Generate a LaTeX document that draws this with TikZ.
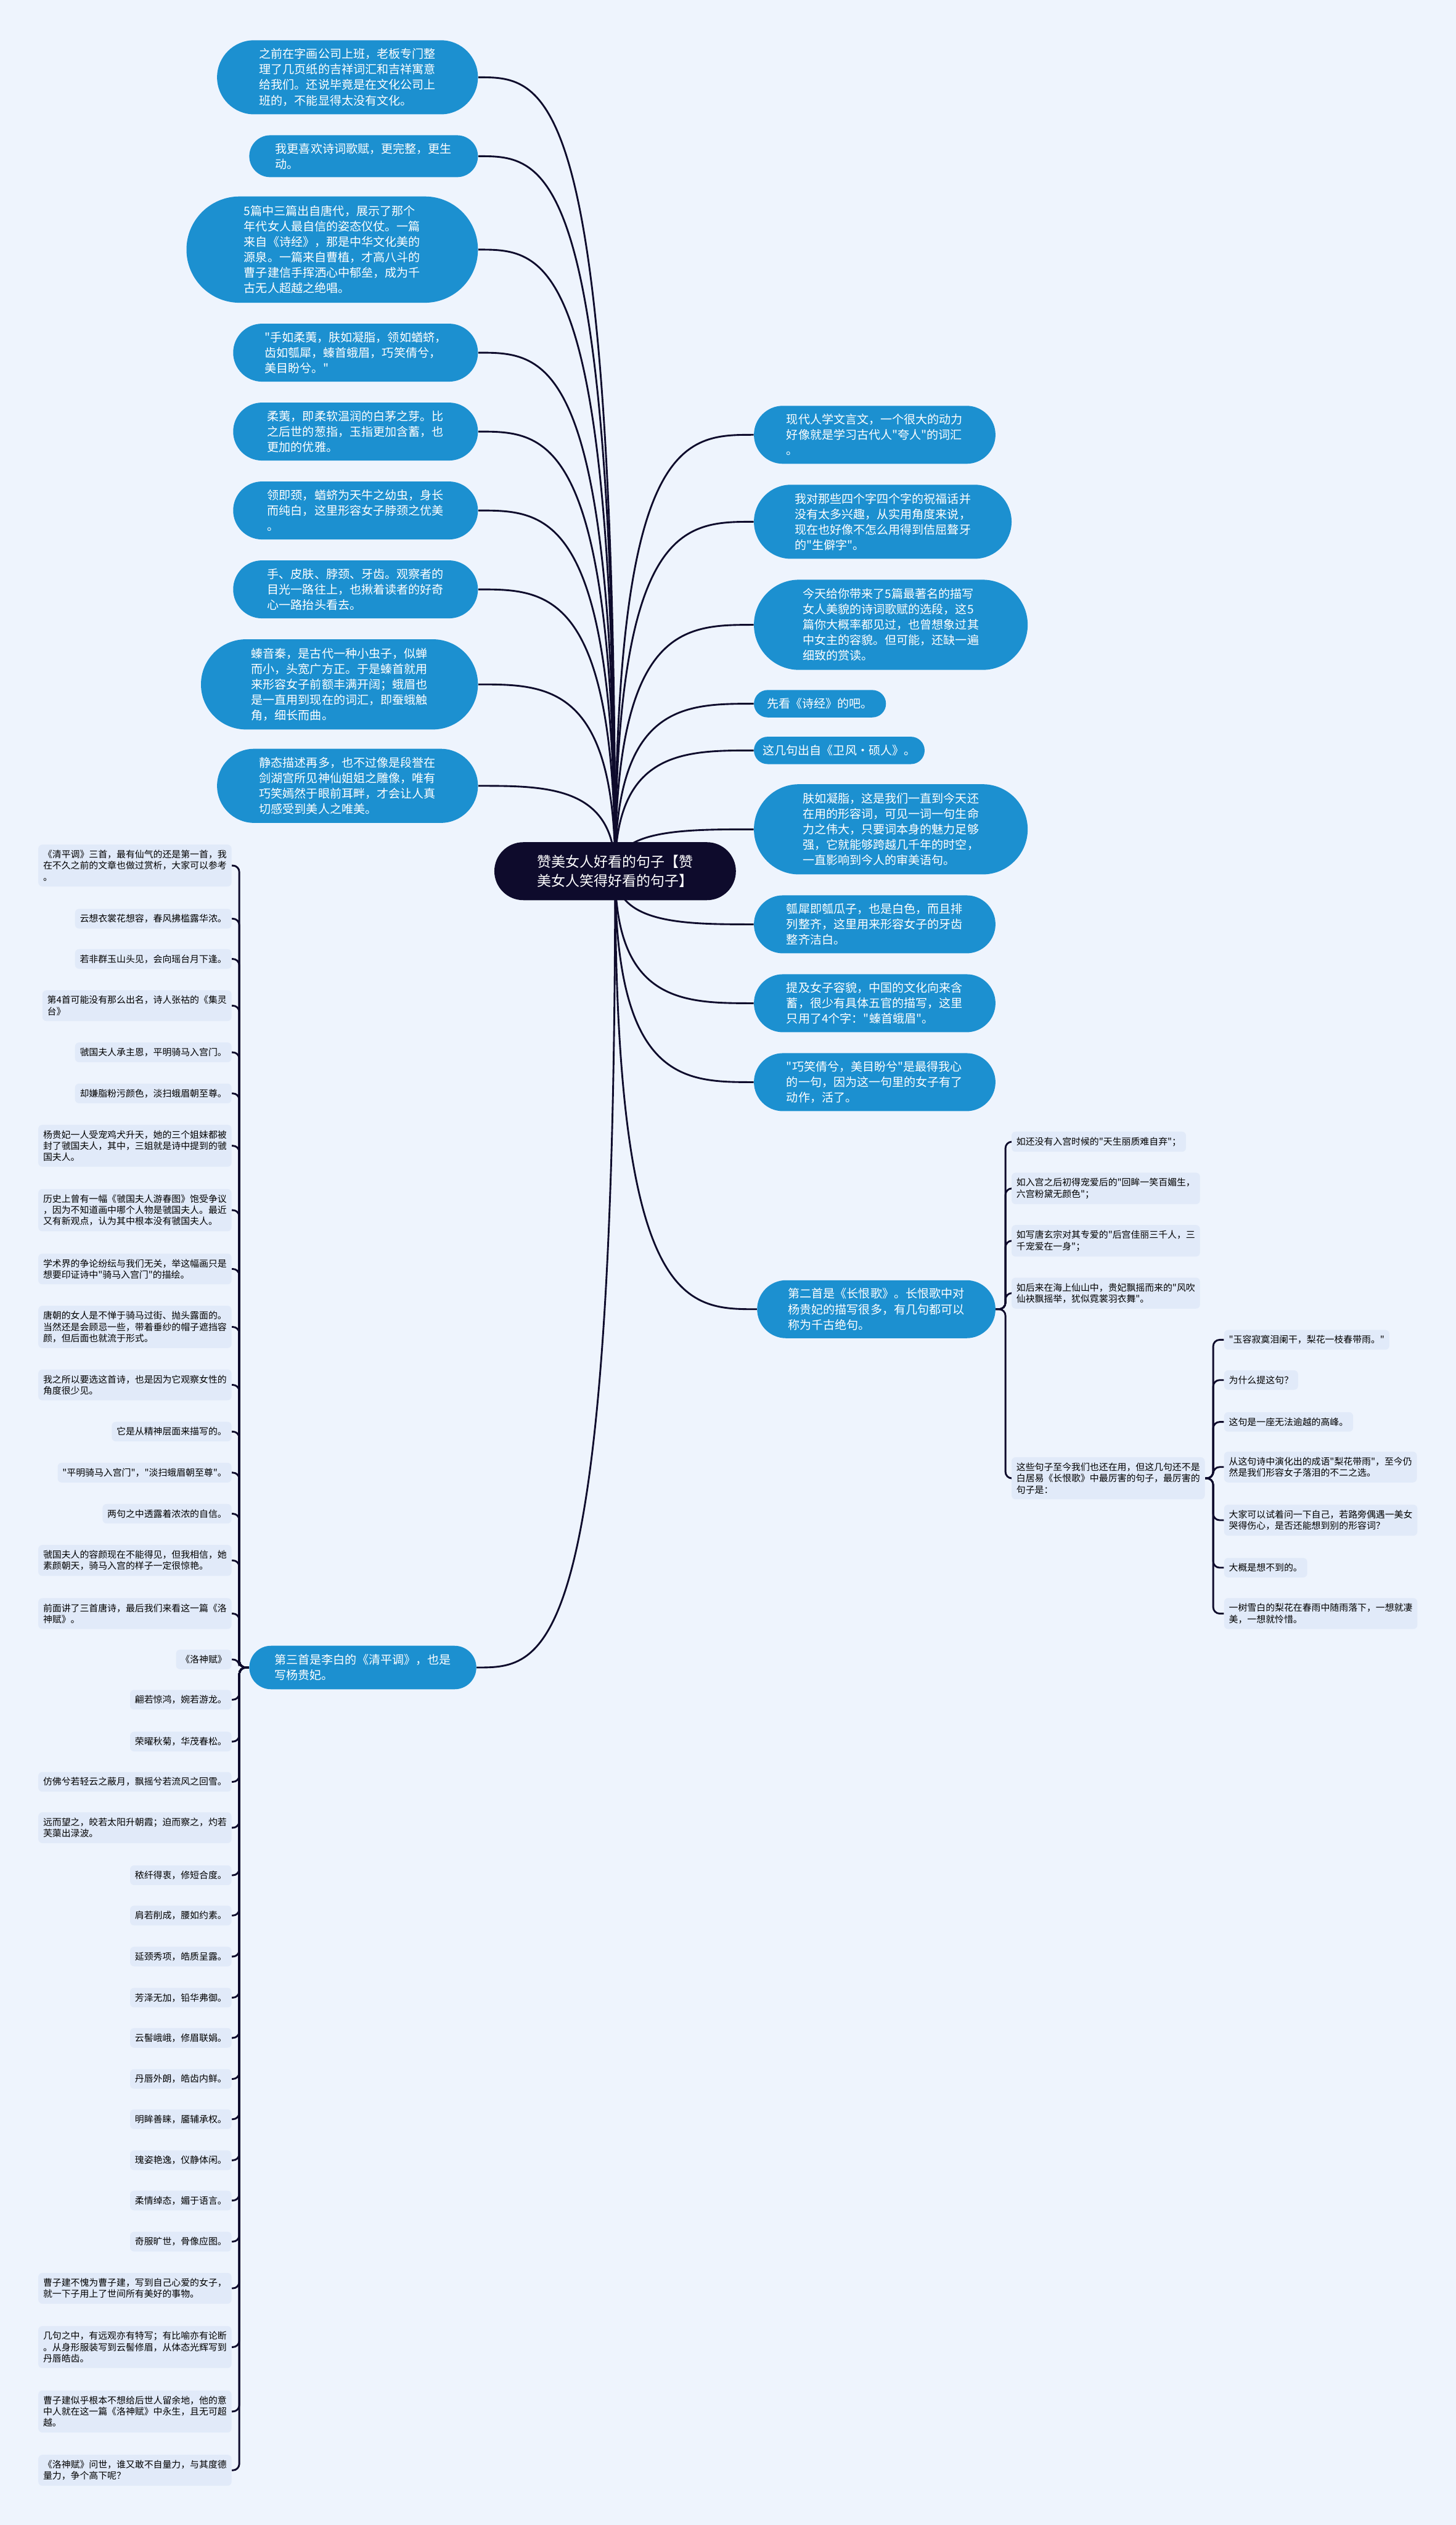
\documentclass[tikz,border=0pt]{standalone}
\usepackage{fontspec}
\newfontfamily\cjk{Noto Sans CJK SC}
\usepackage{xcolor}
\usepackage{tikz}
\usetikzlibrary{shapes.misc,calc,backgrounds}
\definecolor{pagebg}{RGB}{238,244,253}
\definecolor{pillblue}{RGB}{28,144,208}
\definecolor{rootnavy}{RGB}{14,11,44}
\definecolor{leafbg}{RGB}{225,234,249}

\begin{document}
\begin{tikzpicture}[x=1pt, y=-1pt,
    root/.style={rounded rectangle, fill=rootnavy, text=white, inner sep=0pt, align=left, font=\cjk\fontsize{8.8}{11.8}\selectfont},
    pill/.style={rounded rectangle, fill=pillblue, text=white, inner sep=0pt, align=left, font=\cjk\fontsize{7.3}{9.6}\selectfont},
    leaf/.style={fill=leafbg, rounded corners=2.5pt, inner xsep=3pt, inner ysep=3.4pt, align=left, font=\cjk\fontsize{5.7}{7}\selectfont},
    link/.style={draw=rootnavy, line width=1.1pt},
    brace/.style={rounded corners=4pt},
    branch/.style={to path={.. controls (\tikztostart |- \tikztotarget) and ($(\tikztostart |- \tikztotarget)!0.5!(\tikztotarget)$) .. (\tikztotarget)}}]
    \useasboundingbox (0,0) rectangle (904,1568);

    % Root
    \node[root, minimum width=150pt, minimum height=36pt] (root) at (382,541) {赞美女人好看的句子【赞\\美女人笑得好看的句子】};

    % Left branches
    \node[pill, anchor=east, minimum width=162pt, minimum height=46pt] (lt1) at (297,48) {之前在字画公司上班，老板专门整\\理了几页纸的吉祥词汇和吉祥寓意\\给我们。还说毕竟是在文化公司上\\班的，不能显得太没有文化。};
    \node[pill, anchor=east, minimum width=142pt, minimum height=26pt] (lt2) at (297,97) {我更喜欢诗词歌赋，更完整，更生\\动。};
    \node[pill, anchor=east, minimum width=181pt, minimum height=66pt] (lt3) at (297,155) {5篇中三篇出自唐代，展示了那个\\年代女人最自信的姿态仪仗。一篇\\来自《诗经》，那是中华文化美的\\源泉。一篇来自曹植，才高八斗的\\曹子建信手挥洒心中郁垒，成为千\\古无人超越之绝唱。};
    \node[pill, anchor=east, minimum width=152pt, minimum height=36pt] (lt4) at (297,219) {"手如柔荑，肤如凝脂，领如蝤蛴，\\齿如瓠犀，螓首蛾眉，巧笑倩兮，\\美目盼兮。"};
    \node[pill, anchor=east, minimum width=152pt, minimum height=36pt] (lt5) at (297,268) {柔荑，即柔软温润的白茅之芽。比\\之后世的葱指，玉指更加含蓄，也\\更加的优雅。};
    \node[pill, anchor=east, minimum width=152pt, minimum height=36pt] (lt6) at (297,317) {领即颈，蝤蛴为天牛之幼虫，身长\\而纯白，这里形容女子脖颈之优美\\。};
    \node[pill, anchor=east, minimum width=152pt, minimum height=36pt] (lt7) at (297,366) {手、皮肤、脖颈、牙齿。观察者的\\目光一路往上，也揪着读者的好奇\\心一路抬头看去。};
    \node[pill, anchor=east, minimum width=172pt, minimum height=56pt] (lt8) at (297,425) {螓音秦，是古代一种小虫子，似蝉\\而小，头宽广方正。于是螓首就用\\来形容女子前额丰满开阔；蛾眉也\\是一直用到现在的词汇，即蚕蛾触\\角，细长而曲。};
    \node[pill, anchor=east, minimum width=162pt, minimum height=46pt] (lt9) at (297,488) {静态描述再多，也不过像是段誉在\\剑湖宫所见神仙姐姐之雕像，唯有\\巧笑嫣然于眼前耳畔，才会让人真\\切感受到美人之唯美。};
    \node[pill, anchor=east, minimum width=141pt, minimum height=27pt] (qpd) at (296,1035.5) {第三首是李白的《清平调》，也是\\写杨贵妃。};

    % Right branches
    \node[pill, anchor=west, minimum width=150pt, minimum height=36pt] (rt1) at (468,270) {现代人学文言文，一个很大的动力\\好像就是学习古代人"夸人"的词汇\\。};
    \node[pill, anchor=west, minimum width=160pt, minimum height=46pt] (rt2) at (468,324) {我对那些四个字四个字的祝福话并\\没有太多兴趣，从实用角度来说，\\现在也好像不怎么用得到佶屈聱牙\\的"生僻字"。};
    \node[pill, anchor=west, minimum width=170pt, minimum height=56pt] (rt3) at (468,388) {今天给你带来了5篇最著名的描写\\女人美貌的诗词歌赋的选段，这5\\篇你大概率都见过，也曾想象过其\\中女主的容貌。但可能，还缺一遍\\细致的赏读。};
    \node[pill, anchor=west, minimum width=82pt, minimum height=17pt] (rt4) at (468,437) {先看《诗经》的吧。};
    \node[pill, anchor=west, minimum width=106pt, minimum height=17pt] (rt5) at (468,466) {这几句出自《卫风·硕人》。};
    \node[pill, anchor=west, minimum width=170pt, minimum height=56pt] (rt6) at (468,515) {肤如凝脂，这是我们一直到今天还\\在用的形容词，可见一词一句生命\\力之伟大，只要词本身的魅力足够\\强，它就能够跨越几千年的时空，\\一直影响到今人的审美语句。};
    \node[pill, anchor=west, minimum width=150pt, minimum height=36pt] (rt7) at (468,574) {瓠犀即瓠瓜子，也是白色，而且排\\列整齐，这里用来形容女子的牙齿\\整齐洁白。};
    \node[pill, anchor=west, minimum width=150pt, minimum height=36pt] (rt8) at (468,623) {提及女子容貌，中国的文化向来含\\蓄，很少有具体五官的描写，这里\\只用了4个字："螓首蛾眉"。};
    \node[pill, anchor=west, minimum width=150pt, minimum height=36pt] (rt9) at (468,672) {"巧笑倩兮，美目盼兮"是最得我心\\的一句，因为这一句里的女子有了\\动作，活了。};
    \node[pill, anchor=west, minimum width=148pt, minimum height=36pt] (chg) at (470,813) {第二首是《长恨歌》。长恨歌中对\\杨贵妃的描写很多，有几句都可以\\称为千古绝句。};

    % Changhen ge leaves
    \node[leaf, anchor=west] (chga) at (628,709) {如还没有入宫时候的"天生丽质难自弃"；};
    \node[leaf, anchor=west] (chgb) at (628,738) {如入宫之后初得宠爱后的"回眸一笑百媚生，\\六宫粉黛无颜色"；};
    \node[leaf, anchor=west] (chgc) at (628,770.5) {如写唐玄宗对其专爱的"后宫佳丽三千人，三\\千宠爱在一身"；};
    \node[leaf, anchor=west] (chgd) at (628,803) {如后来在海上仙山中，贵妃飘摇而来的"风吹\\仙袂飘摇举，犹似霓裳羽衣舞"。};
    \node[leaf, anchor=west] (chge) at (628,918) {这些句子至今我们也还在用，但这几句还不是\\白居易《长恨歌》中最厉害的句子，最厉害的\\句子是：};

    \node[leaf, anchor=west] (lh1) at (760,832) {"玉容寂寞泪阑干，梨花一枝春带雨。"};
    \node[leaf, anchor=west] (lh2) at (760,857) {为什么提这句？};
    \node[leaf, anchor=west] (lh3) at (760,883) {这句是一座无法逾越的高峰。};
    \node[leaf, anchor=west] (lh4) at (760,911) {从这句诗中演化出的成语"梨花带雨"，至今仍\\然是我们形容女子落泪的不二之选。};
    \node[leaf, anchor=west] (lh5) at (760,944) {大家可以试着问一下自己，若路旁偶遇一美女\\哭得伤心，是否还能想到别的形容词？};
    \node[leaf, anchor=west] (lh6) at (760,973.5) {大概是想不到的。};
    \node[leaf, anchor=west] (lh7) at (760,1002) {一树雪白的梨花在春雨中随雨落下，一想就凄\\美，一想就怜惜。};

    % Qingping diao leaves
    \node[leaf, anchor=east] (q1) at (144,537.5) {《清平调》三首，最有仙气的还是第一首，我\\在不久之前的文章也做过赏析，大家可以参考\\。};
    \node[leaf, anchor=east] (q2) at (144,570.5) {云想衣裳花想容，春风拂槛露华浓。};
    \node[leaf, anchor=east] (q3) at (144,595.5) {若非群玉山头见，会向瑶台月下逢。};
    \node[leaf, anchor=east] (q4) at (144,624.5) {第4首可能没有那么出名，诗人张祜的《集灵\\台》};
    \node[leaf, anchor=east] (q5) at (144,653.5) {虢国夫人承主恩，平明骑马入宫门。};
    \node[leaf, anchor=east] (q6) at (144,679) {却嫌脂粉污颜色，淡扫蛾眉朝至尊。};
    \node[leaf, anchor=east] (q7) at (144,711.5) {杨贵妃一人受宠鸡犬升天，她的三个姐妹都被\\封了虢国夫人，其中，三姐就是诗中提到的虢\\国夫人。};
    \node[leaf, anchor=east] (q8) at (144,751.5) {历史上曾有一幅《虢国夫人游春图》饱受争议\\，因为不知道画中哪个人物是虢国夫人。最近\\又有新观点，认为其中根本没有虢国夫人。};
    \node[leaf, anchor=east] (q9) at (144,788) {学术界的争论纷纭与我们无关，举这幅画只是\\想要印证诗中"骑马入宫门"的描绘。};
    \node[leaf, anchor=east] (q10) at (144,824) {唐朝的女人是不惮于骑马过街、抛头露面的。\\当然还是会顾忌一些，带着垂纱的帽子遮挡容\\颜，但后面也就流于形式。};
    \node[leaf, anchor=east] (q11) at (144,860) {我之所以要选这首诗，也是因为它观察女性的\\角度很少见。};
    \node[leaf, anchor=east] (q12) at (144,889) {它是从精神层面来描写的。};
    \node[leaf, anchor=east] (q13) at (144,914.5) {"平明骑马入宫门"，"淡扫蛾眉朝至尊"。};
    \node[leaf, anchor=east] (q14) at (144,940) {两句之中透露着浓浓的自信。};
    \node[leaf, anchor=east] (q15) at (144,969) {虢国夫人的容颜现在不能得见，但我相信，她\\素颜朝天，骑马入宫的样子一定很惊艳。};
    \node[leaf, anchor=east] (q16) at (144,1002) {前面讲了三首唐诗，最后我们来看这一篇《洛\\神赋》。};
    \node[leaf, anchor=east] (q17) at (144,1030.5) {《洛神赋》};
    \node[leaf, anchor=east] (q18) at (144,1055.5) {翩若惊鸿，婉若游龙。};
    \node[leaf, anchor=east] (q19) at (144,1081.5) {荣曜秋菊，华茂春松。};
    \node[leaf, anchor=east] (q20) at (144,1106.5) {仿佛兮若轻云之蔽月，飘摇兮若流风之回雪。};
    \node[leaf, anchor=east] (q21) at (144,1135) {远而望之，皎若太阳升朝霞；迫而察之，灼若\\芙蕖出渌波。};
    \node[leaf, anchor=east] (q22) at (144,1164.5) {秾纤得衷，修短合度。};
    \node[leaf, anchor=east] (q23) at (144,1189.5) {肩若削成，腰如约素。};
    \node[leaf, anchor=east] (q24) at (144,1215) {延颈秀项，皓质呈露。};
    \node[leaf, anchor=east] (q25) at (144,1240.5) {芳泽无加，铅华弗御。};
    \node[leaf, anchor=east] (q26) at (144,1265.5) {云髻峨峨，修眉联娟。};
    \node[leaf, anchor=east] (q27) at (144,1291) {丹唇外朗，皓齿内鲜。};
    \node[leaf, anchor=east] (q28) at (144,1316) {明眸善睐，靥辅承权。};
    \node[leaf, anchor=east] (q29) at (144,1341.5) {瑰姿艳逸，仪静体闲。};
    \node[leaf, anchor=east] (q30) at (144,1366.5) {柔情绰态，媚于语言。};
    \node[leaf, anchor=east] (q31) at (144,1392) {奇服旷世，骨像应图。};
    \node[leaf, anchor=east] (q32) at (144,1421) {曹子建不愧为曹子建，写到自己心爱的女子，\\就一下子用上了世间所有美好的事物。};
    \node[leaf, anchor=east] (q33) at (144,1457.5) {几句之中，有远观亦有特写；有比喻亦有论断\\。从身形服装写到云髻修眉，从体态光辉写到\\丹唇皓齿。};
    \node[leaf, anchor=east] (q34) at (144,1497.5) {曹子建似乎根本不想给后世人留余地，他的意\\中人就在这一篇《洛神赋》中永生，且无可超\\越。};
    \node[leaf, anchor=east] (q35) at (144,1534) {《洛神赋》问世，谁又敢不自量力，与其度德\\量力，争个高下呢？};

    % Connectors
    \begin{scope}[on background layer]
        \fill[pagebg] (0,0) rectangle (904,1568);
        \foreach \n in {lt1,lt2,lt3,lt4,lt5,lt6,lt7,lt8,lt9,qpd}
            \draw[link] (root.center) to[branch] (\n.east);
        \foreach \n in {rt1,rt2,rt3,rt4,rt5,rt6,rt7,rt8,rt9,chg}
            \draw[link] (root.center) to[branch] (\n.west);
        \foreach \n in {chga,chgb,chgc,chgd,chge}
            \draw[link, brace] (chg.east) -- ++(6,0) |- (\n.west);
        \foreach \n in {lh1,lh2,lh3,lh4,lh5,lh6,lh7}
            \draw[link, brace] (chge.east) -- ++(5,0) |- (\n.west);
        \foreach \i in {1,...,35}
            \draw[link, brace] (qpd.west) -- ++(-6,0) |- (q\i.east);
    \end{scope}
\end{tikzpicture}
\end{document}
